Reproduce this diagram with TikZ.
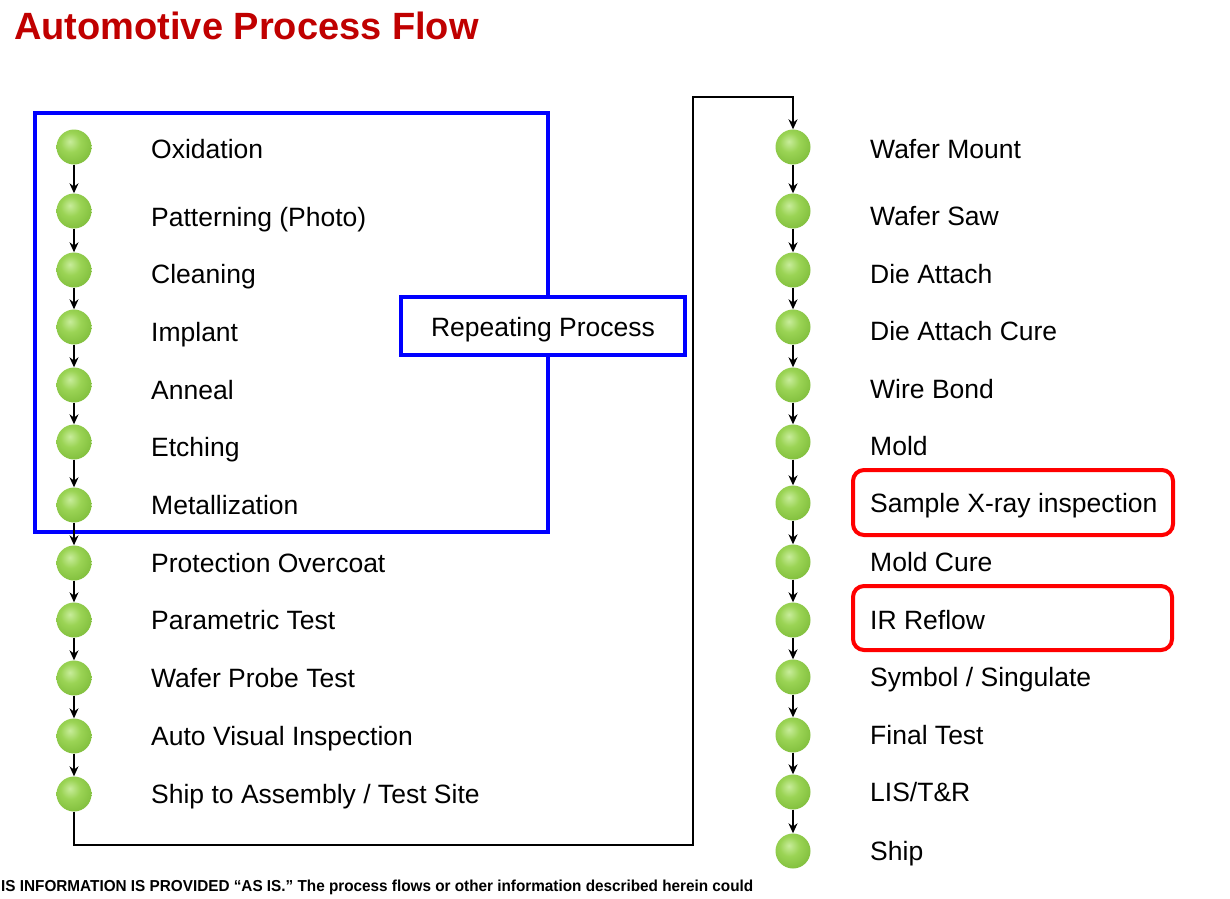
\documentclass[tikz,border=0pt]{standalone}
\usepackage{fontspec}
\setmainfont{Liberation Sans}
\usetikzlibrary{arrows.meta}
\definecolor{titlered}{RGB}{192,0,0}
\definecolor{pureblue}{RGB}{0,0,255}
\definecolor{purered}{RGB}{255,0,0}
\definecolor{gH}{RGB}{200,236,155}
\definecolor{gM}{RGB}{155,212,85}
\definecolor{gL}{RGB}{128,190,60}
\definecolor{gD}{RGB}{96,154,38}
\pgfdeclareradialshading{greenball}{\pgfpoint{-6bp}{8bp}}{%
  color(0bp)=(gH); color(14bp)=(gM); color(32bp)=(gL); color(44bp)=(gD); color(80bp)=(gD)}
\tikzset{
  ball/.style={circle, minimum size=35pt, inner sep=0pt, shading=greenball},
  lbl/.style={anchor=base west, inner sep=0pt, font=\fontsize{26.5}{30}\selectfont},
  arr/.style={draw=black, line width=1.3pt, -{Stealth[length=10pt,width=9pt]}},
  flow/.style={draw=black, line width=1.4pt, -{Stealth[length=10pt,width=9pt]}},
  bluebox/.style={draw=pureblue, line width=4.5pt, inner sep=0pt},
  redbox/.style={draw=purered, line width=4pt, rounded corners=11pt, inner sep=0pt},
}
\begin{document}
\begin{tikzpicture}[x=1pt,y=-1pt]
\useasboundingbox (0,0) rectangle (1230,898);
\fill[white] (0,0) rectangle (1230,898);

\node[anchor=base west, inner sep=0pt, text=titlered, font=\fontsize{38}{42}\selectfont\bfseries] (title) at (14,39) {Automotive Process Flow};

% blue frame of the repeating part
\node[bluebox, minimum width=513pt, minimum height=419pt] (frame) at (291.5,322.5) {};

% left column
\foreach \by/\ty/\t [count=\i] in {147/149/Oxidation, 211/217/Patterning (Photo), 270/274/Cleaning, 327/332/Implant, 385/390/Anneal, 442/447/Etching, 505/505/Metallization, 563/563/Protection Overcoat, 620/620/Parametric Test, 678/678/Wafer Probe Test, 736/736/Auto Visual Inspection, 794/794/{Ship to Assembly {/} Test Site}}{
  \node[ball] (L\i) at (74,\by) {};
  \node[lbl] (LT\i) at (151,\ty+9.5) {\t};
}
\foreach \i in {1,...,11}{
  \pgfmathtruncatemacro{\j}{\i+1}
  \draw[arr] (L\i.south) -- (L\j.north);
}

% right column
\foreach \by/\ty/\t [count=\i] in {147/149/Wafer Mount, 211/216/Wafer Saw, 270/274/Die Attach, 327/331/Die Attach Cure, 385/389/Wire Bond, 442/446/Mold, 503/503/Sample X-ray inspection, 562/562/Mold Cure, 620/620/IR Reflow, 677/677/{Symbol {/} Singulate}, 735/735/Final Test, 792/792/{LIS{/}T\&R}, 851/851/Ship}{
  \node[ball] (R\i) at (793,\by) {};
  \node[lbl] (RT\i) at (870,\ty+9.5) {\t};
}
\foreach \i in {1,...,12}{
  \pgfmathtruncatemacro{\j}{\i+1}
  \draw[arr] (R\i.south) -- (R\j.north);
}

% connector from left column to right column
\coordinate (turnA) at (693,845);
\coordinate (turnB) at (793,97);
\draw[flow] (L12.south) |- (turnA) |- (turnB) -- (R1.north);

% repeating process label box
\node[bluebox, fill=white, minimum width=284pt, minimum height=58pt] (rep) at (543,326) {};
\node[anchor=base, inner sep=0pt, font=\fontsize{26.5}{30}\selectfont] (reptext) at (543,336.5) {Repeating Process};

% red highlight boxes
\node[redbox, minimum width=320pt, minimum height=65pt] (hx) at (1013,502.5) {};
\node[redbox, minimum width=319pt, minimum height=64pt] (hir) at (1012.5,618) {};

% footer
\node[anchor=base west, inner sep=0pt] (foot) at (1,891) {\resizebox{752pt}{11.5pt}{\bfseries IS INFORMATION IS PROVIDED “AS IS.” The process flows or other information described herein could}};
\end{tikzpicture}
\end{document}
